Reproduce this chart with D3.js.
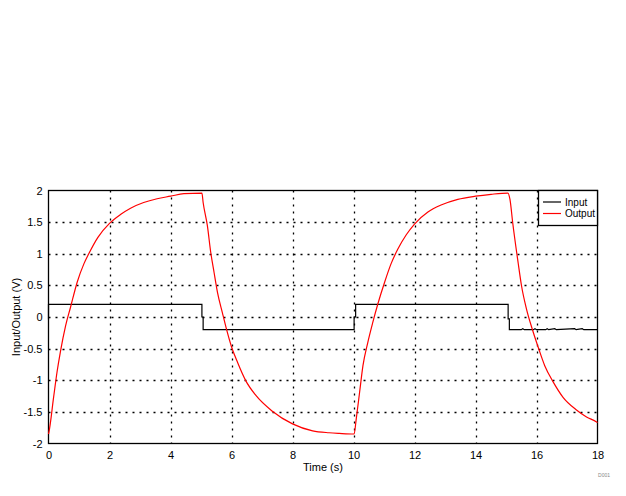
<!DOCTYPE html>
<html>
<head>
<meta charset="utf-8">
<script src="https://cdn.jsdelivr.net/npm/d3@7/dist/d3.min.js"></script>
<style>
  html, body { margin: 0; padding: 0; background: #fff; }
  svg { display: block; }
  text { font-family: "Liberation Sans", Arial, sans-serif; }
</style>
</head>
<body>
<script>
// ---- data ----
const xTicks = [0, 2, 4, 6, 8, 10, 12, 14, 16, 18];
const yTicks = [-2, -1.5, -1, -0.5, 0, 0.5, 1, 1.5, 2];
const yTickLabels = ["-2", "-1.5", "-1", "-0.5", "0", "0.5", "1", "1.5", "2"];
const seriesNames = ["Input", "Output"];

const inputTime = [0, 0, 5.03, 5.03, 5.07, 5.07, 10.02, 10.02, 10.07, 10.07, 15.07, 15.07, 15.11, 15.11,
  15.5, 15.55, 15.6, 15.9, 15.95, 16.0, 16.3, 16.35, 16.4, 16.6, 16.65, 17.25, 17.3, 17.5, 17.55, 18];
const inputValue = [-0.04, 0.2, 0.2, 0.0, 0.0, -0.2, -0.2, 0.0, 0.0, 0.2, 0.2, -0.03, -0.03, -0.2,
  -0.2, -0.185, -0.2, -0.2, -0.185, -0.2, -0.2, -0.185, -0.2, -0.185, -0.2, -0.185, -0.2, -0.185, -0.2, -0.2];

const outputTime = [0, 0.01, 0.17, 0.28, 0.39, 0.56, 0.72, 0.94, 1.16, 1.32, 1.62, 2.0, 2.36, 2.69, 3.12, 3.56, 4.0, 4.44, 5.03,
  5.07, 5.21, 5.32, 5.43, 5.54, 5.70, 5.84, 6.0, 6.2, 6.47, 6.8, 7.34, 8.0, 8.66, 9.2, 9.53, 10.02,
  10.09, 10.2, 10.31, 10.47, 10.63, 10.8, 11.02, 11.23, 11.45, 11.73, 12.0, 12.44, 12.87, 13.42, 14.0, 14.51, 15.06,
  15.13, 15.22, 15.4, 15.51, 15.67, 15.86, 16.05, 16.27, 16.55, 16.87, 17.31, 17.64, 17.97, 18.0];
const outputValue = [-1.85, -1.83, -1.26, -0.87, -0.55, -0.14, 0.15, 0.55, 0.84, 1.0, 1.26, 1.48, 1.62, 1.72, 1.81, 1.87, 1.91, 1.95, 1.96,
  1.81, 1.44, 1.02, 0.70, 0.39, 0.07, -0.20, -0.47, -0.72, -1.01, -1.24, -1.49, -1.69, -1.80, -1.83, -1.84, -1.85,
  -1.61, -1.19, -0.77, -0.40, -0.09, 0.21, 0.55, 0.84, 1.07, 1.30, 1.47, 1.66, 1.77, 1.86, 1.91, 1.94, 1.96,
  1.86, 1.49, 0.85, 0.49, 0.13, -0.19, -0.47, -0.77, -1.03, -1.27, -1.47, -1.58, -1.66, -1.67];

// ---- chart ----
const W = 626, H = 496;
const svg = d3.select("body").append("svg").attr("width", W).attr("height", H);

const x = d3.scaleLinear().domain([0, 18]).range([48.5, 597.5]);
const y = d3.scaleLinear().domain([-2, 2]).range([443.5, 190.5]);

// grid
const grid = svg.append("g");
grid.selectAll("line.vx").data(xTicks.filter(t => t > 0 && t < 18)).enter().append("line")
  .attr("x1", d => Math.round(x(d)) + 0.5).attr("x2", d => Math.round(x(d)) + 0.5)
  .attr("y1", y(2)).attr("y2", y(-2))
  .attr("stroke", "#000").attr("stroke-width", 1.3).attr("stroke-dasharray", "2,5");
grid.selectAll("line.hy").data(yTicks.filter(t => t > -2 && t < 2)).enter().append("line")
  .attr("y1", d => Math.round(y(d)) + 0.5).attr("y2", d => Math.round(y(d)) + 0.5)
  .attr("x1", x(0)).attr("x2", x(18))
  .attr("stroke", "#000").attr("stroke-width", 1.3).attr("stroke-dasharray", "2,5");

// axes
const xAxis = d3.axisBottom(x).tickValues(xTicks).tickSize(0).tickPadding(8).tickFormat(d3.format("d"));
const gx = svg.append("g").attr("transform", `translate(0,${y(-2)})`).call(xAxis);
const yAxis = d3.axisLeft(y).tickValues(yTicks).tickSize(0).tickPadding(6).tickFormat((d, i) => yTickLabels[i]);
const gy = svg.append("g").attr("transform", `translate(${x(0)},0)`).call(yAxis);
[gx, gy].forEach(g => {
  g.select(".domain").remove();
  g.selectAll("text").attr("font-size", 11).attr("fill", "#000")
    .attr("font-family", "'Liberation Sans', Arial, sans-serif");
});

// frame
svg.append("rect").attr("x", x(0)).attr("y", y(2))
  .attr("width", x(18) - x(0)).attr("height", y(-2) - y(2))
  .attr("fill", "none").attr("stroke", "#000").attr("stroke-width", 1.3);

// series
const inputPts = inputTime.map((t, i) => [t, inputValue[i]]);
const outputPts = outputTime.map((t, i) => [t, outputValue[i]]);
svg.append("path").datum(inputPts)
  .attr("d", d3.line().x(d => x(d[0])).y(d => y(d[1])))
  .attr("fill", "none").attr("stroke", "#000").attr("stroke-width", 1.2);
svg.append("path").datum(outputPts)
  .attr("d", d3.line().x(d => x(d[0])).y(d => y(d[1])).curve(d3.curveMonotoneX))
  .attr("fill", "none").attr("stroke", "#ff0000").attr("stroke-width", 1.2);

// axis titles
svg.append("text").attr("x", (x(0) + x(18)) / 2).attr("y", 471)
  .attr("text-anchor", "middle").attr("font-size", 11).text("Time (s)");
svg.append("text").attr("transform", `translate(20,${(y(2) + y(-2)) / 2}) rotate(-90)`)
  .attr("text-anchor", "middle").attr("font-size", 11).text("Input/Output (V)");

// legend
const lg = svg.append("g");
lg.append("rect").attr("x", 538.5).attr("y", 190.5).attr("width", 59).attr("height", 35)
  .attr("fill", "#fff").attr("stroke", "#000").attr("stroke-width", 1.3);
const colors = ["#000", "#ff0000"];
seriesNames.forEach((n, i) => {
  const yy = 202 + i * 11.5;
  lg.append("line").attr("x1", 543).attr("x2", 561).attr("y1", yy).attr("y2", yy)
    .attr("stroke", colors[i]).attr("stroke-width", 1.2);
  lg.append("text").attr("x", 565).attr("y", yy + 3.5).attr("font-size", 10).text(n);
});

// footnote
svg.append("text").attr("x", 610).attr("y", 477).attr("text-anchor", "end")
  .attr("font-size", 5).attr("fill", "#888").text("D001");
</script>
</body>
</html>
